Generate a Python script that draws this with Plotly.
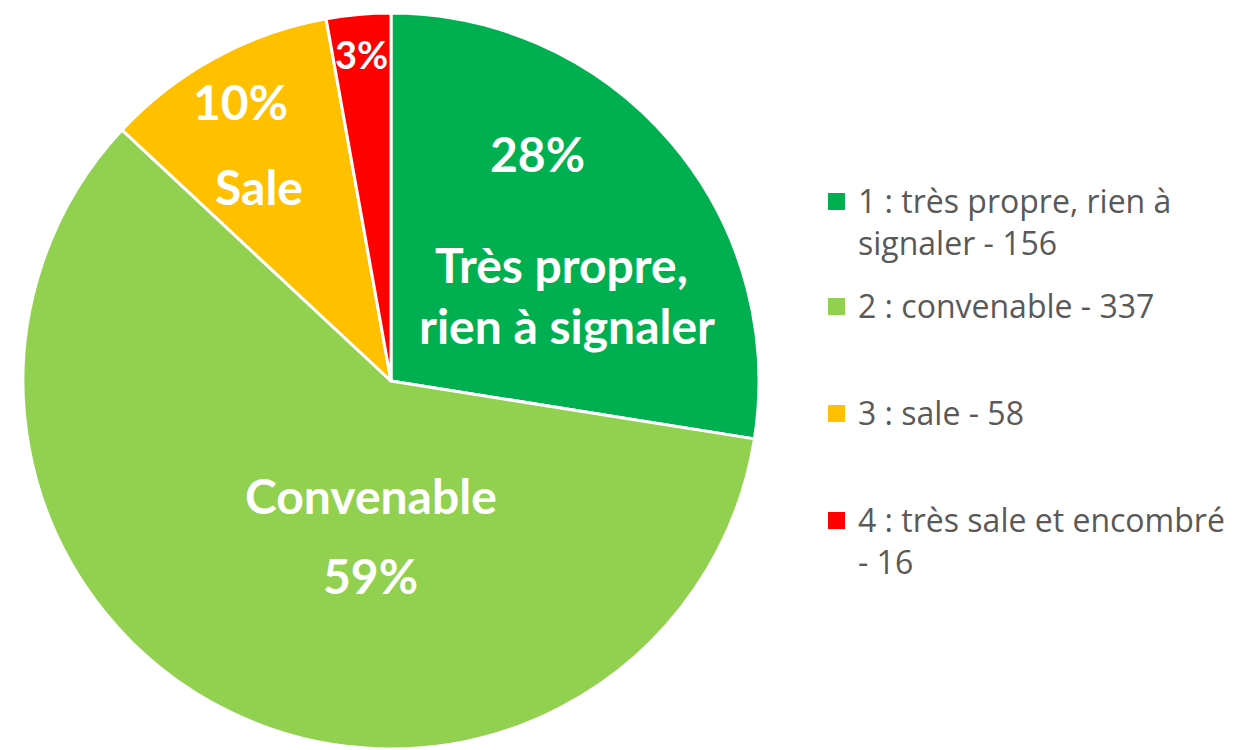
import plotly.graph_objects as go

categories = ["1 : très propre, rien à<br>signaler", "2 : convenable", "3 : sale", "4 : très sale et encombré<br>"]
counts = [156, 337, 58, 16]
colors = ["#00B050", "#92D050", "#FFC000", "#FF0000"]

W, H = 1237, 750
OFF = 8  # default page body margin
total = sum(counts)
pcts = [round(100 * c / total) for c in counts]


def px(x, y):
    """screen pixel -> paper coords (compensating page margin)"""
    return (x - OFF) / W, 1 - (y - OFF) / H


# pie placement (screen px): centre and radius
CX, CY, R = 391, 381, 368
x0d, y1d = px(CX - R, CY - R)
x1d, y0d = px(CX + R, CY + R)

fig = go.Figure(go.Pie(
    values=counts,
    labels=[c.replace("<br>", " ") for c in categories],
    sort=False,
    direction="clockwise",
    rotation=0,
    marker=dict(colors=colors, line=dict(color="white", width=3)),
    textinfo="none",
    hoverinfo="label+value+percent",
    showlegend=False,
    domain=dict(x=[x0d, x1d], y=[y0d, y1d]),
))

annotations = []

# slice labels: (text, centre x, visual middle y, size)
label_spec = [
    (f"<b>{pcts[0]}%</b>", 537, 157, 48),
    ("<b>Très propre,</b>", 561, 268, 48),
    ("<b>rien à signaler</b>", 567, 329, 48),
    ("<b>Convenable</b>", 371, 499, 48),
    (f"<b>{pcts[1]}%</b>", 370, 579, 48),
    (f"<b>{pcts[2]}%</b>", 240, 105, 48),
    ("<b>Sale</b>", 259, 190, 48),
    (f"<b>{pcts[3]}%</b>", 361, 57, 38),
]
for t, x, y, s in label_spec:
    xx, yy = px(x, y - 0.08 * s)
    annotations.append(dict(text=t, x=xx, y=yy, xref="paper", yref="paper",
                            xanchor="center", yanchor="middle", showarrow=False,
                            font=dict(family="Lato", size=s, color="white")))

# legend entries (screen px of square tops)
legend_top = [193, 298, 405, 512]
LS = 32
shapes = []
for cat, n, col, top in zip(categories, counts, colors, legend_top):
    sx0, sy1 = px(828, top)
    sx1, sy0 = px(845, top + 17)
    shapes.append(dict(type="rect", xref="paper", yref="paper", x0=sx0, x1=sx1, y0=sy0, y1=sy1,
                       fillcolor=col, line=dict(width=0)))
    baseline = top + 21
    tx, ty = px(856, baseline - 1.15 * LS)
    txt = f"{cat} - {n}".replace("<br> ", "<br>")
    annotations.append(dict(text=txt, x=tx, y=ty, xref="paper", yref="paper",
                            xanchor="left", yanchor="top", align="left", showarrow=False,
                            font=dict(family="Open Sans", size=LS, color="#595959")))

fig.update_layout(
    width=W, height=H,
    margin=dict(l=0, r=0, t=0, b=0),
    paper_bgcolor="white",
    annotations=annotations,
    shapes=shapes,
)
fig.write_html("out.html")
